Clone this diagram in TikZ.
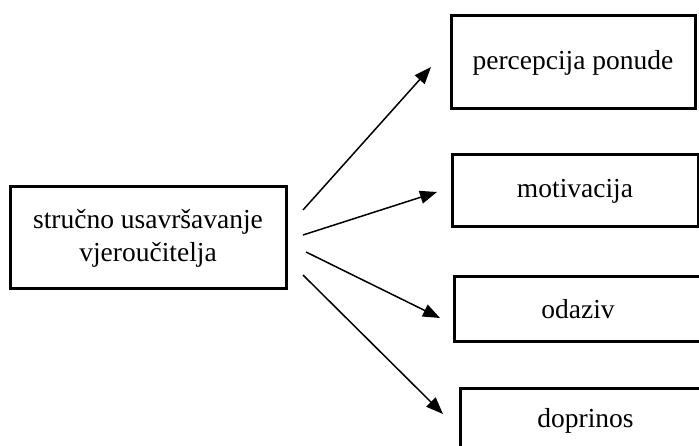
\documentclass[tikz,border=0pt]{standalone}
\usepackage{fontspec}
\setmainfont{Liberation Serif}
\usetikzlibrary{arrows.meta}
\begin{document}
\begin{tikzpicture}[x=1pt,y=-1pt,
  box/.style={draw=black, line width=3pt, rectangle, inner sep=0pt, align=center,
    font=\fontsize{27.5}{33}\selectfont},
  arr/.style={line width=1.5pt, -{Triangle[length=17pt,width=13pt]}}]
\useasboundingbox (0,0) rectangle (699,446);
\clip (0,0) rectangle (699,446);
\node[box, minimum width=276pt, minimum height=102pt] (L) at (148,238) {stručno usavršavanje\\vjeroučitelja};
\node[box, minimum width=244pt, minimum height=93pt] (P) at (573,62.5) {percepcija ponude};
\node[box, minimum width=246pt, minimum height=72pt] (M) at (575,191) {motivacija};
\node[box, minimum width=248pt, minimum height=65pt] (O) at (578,309.5) {odaziv};
\node[box, minimum width=251pt, minimum height=66pt] (D) at (585.5,421) {doprinos};
\coordinate (s1) at (303,210);
\coordinate (t1) at (431,67);
\coordinate (s2) at (303,235);
\coordinate (t2) at (437,192);
\coordinate (s3) at (306,252);
\coordinate (t3) at (440,318);
\coordinate (s4) at (303,275);
\coordinate (t4) at (443,414);
\draw[arr] (s1) -- (t1);
\draw[arr] (s2) -- (t2);
\draw[arr] (s3) -- (t3);
\draw[arr] (s4) -- (t4);
\end{tikzpicture}
\end{document}
